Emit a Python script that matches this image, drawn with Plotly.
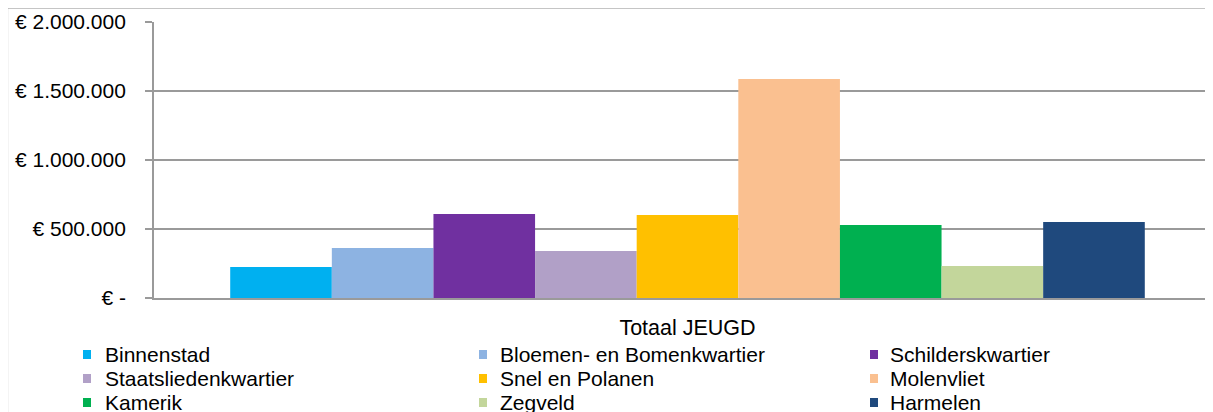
import plotly.graph_objects as go

category = ["Totaal JEUGD"]
wijken = ["Binnenstad", "Bloemen- en Bomenkwartier", "Schilderskwartier",
          "Staatsliedenkwartier", "Snel en Polanen", "Molenvliet",
          "Kamerik", "Zegveld", "Harmelen"]
values = [225000, 362000, 609000, 341000, 601000, 1587000, 529000, 232000, 551000]
colors = ["#00B0F0", "#8DB3E2", "#7030A0", "#B1A0C7", "#FFC000", "#FAC090",
          "#00B050", "#C3D69B", "#1F497D"]
tick_vals = [0, 500000, 1000000, 1500000, 2000000]
tick_text = ["€ -", "€ 500.000", "€ 1.000.000", "€ 1.500.000", "€ 2.000.000"]

FONT = "Liberation Sans, Arial, sans-serif"
OFF = 8  # page body margin: figure is drawn at (8, 8) in the window
W, H = 1213, 412
# target window coords: plot left 154, top 22, bottom 298
L, T = 154 - OFF, 22 - OFF
B = H - (298 - OFF)
PW, PH = W - L, H - T - B


def px_x(x):  # window pixel -> paper
    return (x - OFF - L) / PW


def px_y(y):
    return (H - B - (y - OFF)) / PH


fig = go.Figure()
for name, v, c in zip(wijken, values, colors):
    fig.add_trace(go.Bar(x=category, y=[v], name=name,
                         marker=dict(color=c, line=dict(width=0)), showlegend=False))

# legend drawn as squares + text, 3 columns
marker_cx = [87, 483, 874]
text_x = [103, 498, 888]
row_y = [354.5, 378.5, 402.5]
for i, (name, c) in enumerate(zip(wijken, colors)):
    col, row = i % 3, i // 3
    cx, cy = marker_cx[col], row_y[row]
    fig.add_shape(type="rect", xref="paper", yref="paper",
                  x0=px_x(cx - 4), x1=px_x(cx + 4), y0=px_y(cy + 4.5), y1=px_y(cy - 4.5),
                  fillcolor=c, line=dict(width=0))
    fig.add_annotation(xref="paper", yref="paper", x=px_x(text_x[col]), y=px_y(cy),
                       xanchor="left", yanchor="middle", text=name, showarrow=False,
                       font=dict(size=21, family=FONT, color="black"))

# chart border (left and top edges visible)
bx = px_x(7.5)
by = px_y(8)
fig.add_shape(type="line", xref="paper", yref="paper", x0=bx, x1=bx, y0=by, y1=-1,
              line=dict(color="#8c8c8c", width=1.2))
fig.add_shape(type="line", xref="paper", yref="paper", x0=bx, x1=1.2, y0=by, y1=by,
              line=dict(color="#8c8c8c", width=1.2))

fig.update_layout(
    width=W, height=H,
    margin=dict(l=L, r=0, t=T, b=B, pad=0, autoexpand=False),
    paper_bgcolor="white", plot_bgcolor="white",
    barmode="group", bargap=1.5 / 10.5, bargroupgap=0,
    showlegend=False,
    font=dict(family=FONT, size=20, color="black"),
    xaxis=dict(range=[-0.5, 0.5], showgrid=False, showline=True,
               linecolor="#9a9a9a", linewidth=1.8, ticks="", tickfont=dict(size=21.5),
               ticklabelstandoff=9, fixedrange=True, automargin=False),
    yaxis=dict(range=[0, 2000000], tickvals=tick_vals, ticktext=tick_text,
               showgrid=True, gridcolor="#9a9a9a", gridwidth=1.8,
               showline=True, linecolor="#9a9a9a", linewidth=1.8,
               ticks="outside", ticklen=7, tickcolor="#9a9a9a", tickwidth=1.8,
               ticklabelstandoff=15, zeroline=False, tickfont=dict(size=21),
               automargin=False),
)

fig.write_html("out.html")
